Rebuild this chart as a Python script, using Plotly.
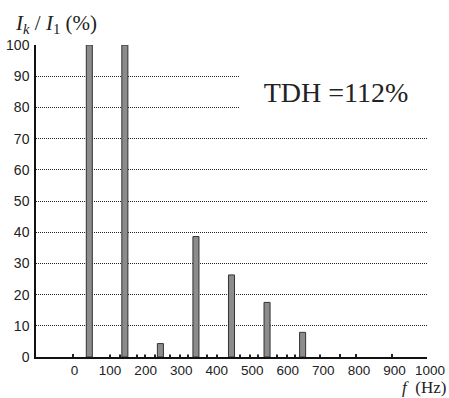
import plotly.graph_objects as go

# Harmonic spectrum of the line current (50 Hz fundamental)
freqs_hz = [50, 150, 250, 350, 450, 550, 650]
amplitude_pct = [100, 100, 4.3, 38.6, 26.3, 17.5, 7.9]

# Small residual spectral lines along the baseline
residual_hz = [4, 108, 136, 184, 206, 235, 277, 305, 328, 381, 408, 474, 502,
               524, 578, 606, 628, 699, 755, 800, 902]
residual_pct = [1.0, 0.8, 0.8, 0.8, 0.8, 0.8, 0.8, 0.8, 0.8, 0.8, 0.8, 0.8, 0.8,
                0.8, 0.8, 0.8, 0.8, 0.8, 1.0, 1.0, 1.0]

x_ticks = [0, 100, 200, 300, 400, 500, 600, 700, 800, 900, 1000]
y_ticks = [0, 10, 20, 30, 40, 50, 60, 70, 80, 90, 100]

thd_label = "TDH =112%"

fig = go.Figure()
fig.add_trace(go.Bar(
    x=residual_hz, y=residual_pct, width=3,
    marker=dict(color="#222222", line=dict(width=0)),
    showlegend=False, hoverinfo="skip",
))
fig.add_trace(go.Bar(
    x=freqs_hz, y=amplitude_pct, width=17,
    marker=dict(color="#8c8c8c", line=dict(color="#333333", width=1)),
    showlegend=False,
))

fig.update_layout(
    width=449, height=398,
    margin=dict(l=36, r=22, t=45, b=41),
    paper_bgcolor="white", plot_bgcolor="white",
    barmode="overlay",
    font=dict(family="Liberation Sans, Arial, sans-serif", size=14, color="#222222"),
    xaxis=dict(
        range=[-100, 1000], tickvals=x_ticks, ticks="", showgrid=False,
        showline=True, linecolor="#111111", linewidth=1.5, zeroline=False,
        ticklabelshift=3, ticklabelstandoff=0, tickfont=dict(size=13.5),
        automargin=False,
    ),
    yaxis=dict(
        range=[0, 100], tickvals=y_ticks, ticks="", showgrid=True,
        gridcolor="#222222", griddash="1px,1px", gridwidth=1,
        showline=True, linecolor="#111111", linewidth=1.5, zeroline=False,
        ticklabelstandoff=2, tickfont=dict(size=14), automargin=False,
    ),
    annotations=[
        dict(text=thd_label, xref="paper", yref="paper", x=0.52, y=0.85,
             xanchor="left", yanchor="middle", showarrow=False,
             bgcolor="white", width=190, height=58,
             font=dict(family="Liberation Serif, Times New Roman, serif", size=28, color="#222222")),
        dict(text="<i>I</i><sub><i>k</i></sub> / <i>I</i><sub>1</sub> (%)",
             xref="paper", yref="paper", x=-0.06, y=1.115,
             xanchor="left", yanchor="top", showarrow=False,
             font=dict(family="Liberation Serif, Times New Roman, serif", size=21, color="#222222")),
        dict(text="<i>f</i>  (Hz)", xref="paper", yref="paper", x=1.05, y=-0.1314,
             xanchor="right", yanchor="bottom", borderpad=0, showarrow=False,
             font=dict(family="Liberation Serif, Times New Roman, serif", size=17, color="#222222")),
    ],
)

fig.write_html("out.html")
